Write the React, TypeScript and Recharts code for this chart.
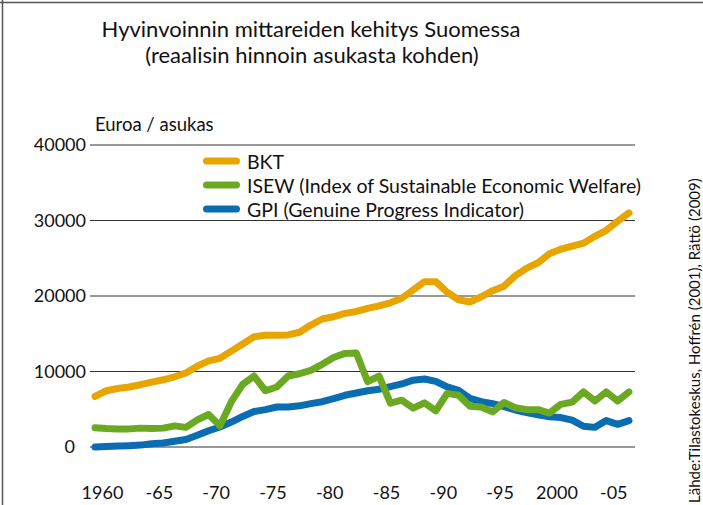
import { CartesianGrid, Line, LineChart, XAxis, YAxis } from "recharts";

const years = [
  1960, 1961, 1962, 1963, 1964, 1965, 1966, 1967, 1968, 1969,
  1970, 1971, 1972, 1973, 1974, 1975, 1976, 1977, 1978, 1979,
  1980, 1981, 1982, 1983, 1984, 1985, 1986, 1987, 1988, 1989,
  1990, 1991, 1992, 1993, 1994, 1995, 1996, 1997, 1998, 1999,
  2000, 2001, 2002, 2003, 2004, 2005, 2006, 2007,
];

const bkt = [
  6700, 7450, 7750, 7950, 8250, 8600, 8900, 9300, 9800, 10700,
  11400, 11750, 12700, 13650, 14600, 14800, 14800, 14850, 15200, 16150,
  16950, 17250, 17700, 17950, 18350, 18700, 19100, 19700, 20800, 21900,
  21900, 20500, 19500, 19200, 19900, 20700, 21300, 22700, 23700, 24400,
  25600, 26200, 26600, 27000, 27900, 28700, 29900, 31000,
];

const isew = [
  2550, 2450, 2400, 2400, 2500, 2450, 2500, 2800, 2600, 3600,
  4300, 2800, 6000, 8300, 9400, 7450, 7950, 9400, 9700, 10150,
  10950, 11850, 12400, 12450, 8650, 9400, 5800, 6200, 5150, 5850,
  4800, 7100, 6850, 5400, 5300, 4650, 5900, 5200, 4950, 4950,
  4500, 5650, 5950, 7300, 6100, 7300, 6100, 7300,
];

const gpi = [
  0, 80, 130, 180, 250, 430, 530, 750, 1000, 1550,
  2150, 2650, 3300, 4050, 4700, 4950, 5300, 5300, 5450, 5750,
  6000, 6400, 6850, 7150, 7450, 7650, 8000, 8350, 8850, 9000,
  8700, 7950, 7500, 6450, 6000, 5750, 5350, 4900, 4550, 4250,
  4000, 3900, 3550, 2750, 2600, 3500, 3000, 3500,
];

const xTicks = [1960, 1965, 1970, 1975, 1980, 1985, 1990, 1995, 2000, 2005];
const xTickLabels = ["1960", "-65", "-70", "-75", "-80", "-85", "-90", "-95", "2000", "-05"];
const yTicks = [0, 10000, 20000, 30000, 40000];

const series = [
  { key: "bkt", name: "BKT", color: "#E8A500" },
  { key: "isew", name: "ISEW (Index of Sustainable Economic Welfare)", color: "#6BA922" },
  { key: "gpi", name: "GPI (Genuine Progress Indicator)", color: "#0A6DB2" },
];

const data = years.map((year, i) => ({
  year,
  bkt: bkt[i],
  isew: isew[i],
  gpi: gpi[i],
}));

const FONT = "Lato, 'Open Sans', sans-serif";

function XTick(props: any) {
  const idx = xTicks.indexOf(props.payload.value);
  return (
    <text x={props.x + 7.5} y={499} textAnchor="middle" fontSize={18} fontFamily={FONT} fill="#111">
      {xTickLabels[idx]}
    </text>
  );
}

function YTick(props: any) {
  const v = props.payload.value;
  return (
    <text x={v === 0 ? 75 : 86} y={props.y} dy="0.35em" textAnchor="end" fontSize={18} fontFamily={FONT} fill="#111">
      {v}
    </text>
  );
}

function LegendBox() {
  return (
    <div style={{ position: "absolute", left: 200, top: 149, fontFamily: FONT, fontSize: 19.5, color: "#111" }}>
      {series.map((s) => (
        <div key={s.key} style={{ display: "flex", alignItems: "center", height: 24 }}>
          <svg width={44} height={10}>
            <line x1={6.5} y1={5} x2={36.5} y2={5} stroke={s.color} strokeWidth={7} strokeLinecap="round" />
          </svg>
          <span style={{ marginLeft: 3, whiteSpace: "nowrap" }}>{s.name}</span>
        </div>
      ))}
    </div>
  );
}

export default function App() {
  return (
    <div style={{ position: "absolute", left: 0, top: 0, width: 703, height: 505, background: "#fff" }}>
      <LineChart width={703} height={505} data={data} margin={{ top: 145, right: 68, bottom: 0, left: 0 }}>
        <CartesianGrid vertical={false} stroke="#333" strokeWidth={1} />
        <XAxis
          dataKey="year"
          type="number"
          domain={[1959.56, 2007.53]}
          allowDataOverflow
          ticks={xTicks}
          tick={<XTick />}
          axisLine={false}
          tickLine={false}
          height={58}
        />
        <YAxis
          domain={[0, 40000]}
          ticks={yTicks}
          tick={<YTick />}
          axisLine={false}
          tickLine={false}
          width={90}
        />
        <Line dataKey="gpi" stroke="#0A6DB2" strokeWidth={7} dot={false} type="linear" strokeLinecap="round" strokeLinejoin="round" isAnimationActive={false} />
        <Line dataKey="isew" stroke="#6BA922" strokeWidth={7} dot={false} type="linear" strokeLinecap="round" strokeLinejoin="round" isAnimationActive={false} />
        <Line dataKey="bkt" stroke="#E8A500" strokeWidth={7} dot={false} type="linear" strokeLinecap="round" strokeLinejoin="round" isAnimationActive={false} />
      </LineChart>
      <LegendBox />
      <svg width={703} height={505} style={{ position: "absolute", left: 0, top: 0, pointerEvents: "none" }}>
        <line x1={0} y1={2.5} x2={703} y2={2.5} stroke="#555" strokeWidth={1.5} />
        <line x1={2.5} y1={0} x2={2.5} y2={505} stroke="#555" strokeWidth={1.5} />
        <text x={311} y={37} textAnchor="middle" fontSize={22} fontFamily={FONT} fill="#111">
          Hyvinvoinnin mittareiden kehitys Suomessa
        </text>
        <text x={312} y={63} textAnchor="middle" fontSize={22} fontFamily={FONT} fill="#111">
          (reaalisin hinnoin asukasta kohden)
        </text>
        <text x={95} y={131} fontSize={18.5} fontFamily={FONT} fill="#111">
          Euroa / asukas
        </text>
        <text
          x={0}
          y={0}
          transform="translate(700 503) rotate(-90)"
          fontSize={15}
          fontFamily={FONT}
          fill="#111"
        >
          Lähde:Tilastokeskus, Hoffrén (2001), Rättö (2009)
        </text>
      </svg>
    </div>
  );
}
